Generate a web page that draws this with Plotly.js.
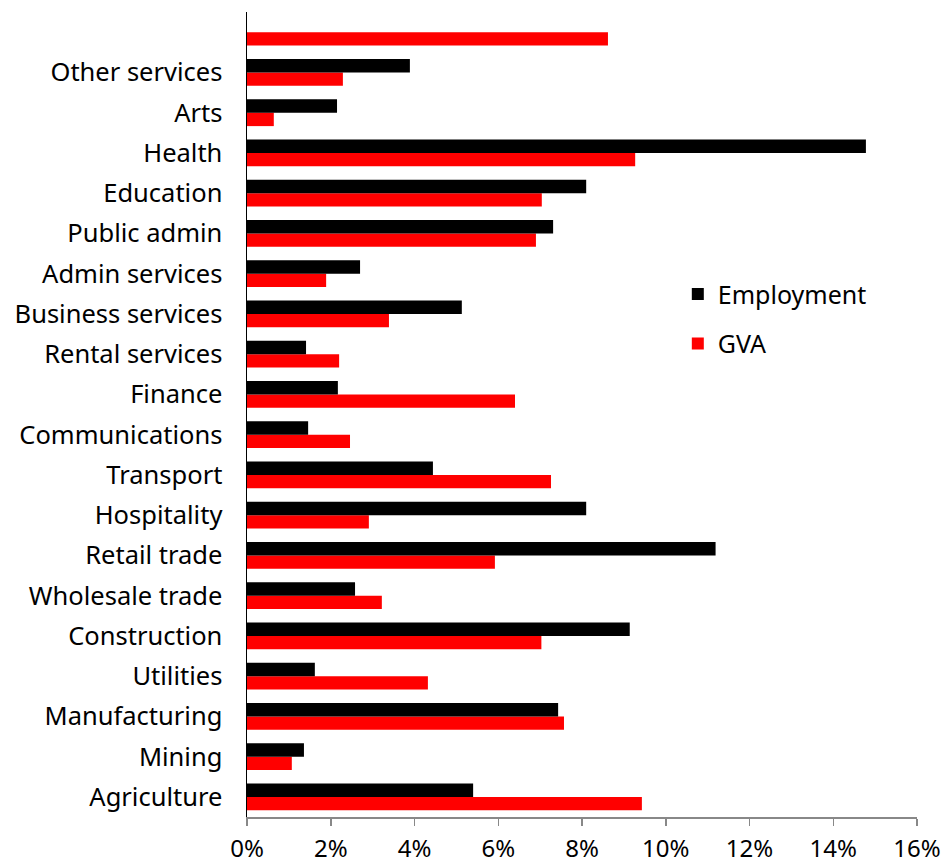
<!DOCTYPE html>
<html>
<head>
<meta charset="utf-8">
<script src="https://cdn.plot.ly/plotly-3.0.1.min.js"></script>
<style>html,body{margin:0;padding:0;background:#fff;}#chart{width:946px;height:863px;}</style>
</head>
<body>
<div id="chart"></div>
<script>
// Categories from bottom to top
var categories = ["Agriculture","Mining","Manufacturing","Utilities","Construction","Wholesale trade","Retail trade","Hospitality","Transport","Communications","Finance","Rental services","Business services","Admin services","Public admin","Education","Health","Arts","Other services","Ownership of dwellings"];
var tickLabels = ["Agriculture","Mining","Manufacturing","Utilities","Construction","Wholesale trade","Retail trade","Hospitality","Transport","Communications","Finance","Rental services","Business services","Admin services","Public admin","Education","Health","Arts","Other services",""];
// Shares, %
var employment = [5.40, 1.36, 7.43, 1.62, 9.14, 2.58, 11.19, 8.10, 4.44, 1.46, 2.17, 1.41, 5.13, 2.70, 7.31, 8.10, 14.78, 2.15, 3.89, 0];
var gva = [9.43, 1.07, 7.57, 4.32, 7.03, 3.22, 5.92, 2.91, 7.26, 2.46, 6.40, 2.20, 3.39, 1.89, 6.90, 7.04, 9.27, 0.64, 2.29, 8.62];
var xTicks = [0, 2, 4, 6, 8, 10, 12, 14, 16];
var xTickText = ["0%","2%","4%","6%","8%","10%","12%","14%","16%"];

var font = "Noto Sans, Open Sans, sans-serif";
var data = [
  {type: "bar", orientation: "h", name: "GVA", legendgroup: "g", legendrank: 2, y: categories, x: gva, marker: {color: "#ff0000"}},
  {type: "bar", orientation: "h", name: "Employment", legendgroup: "e", legendrank: 1, y: categories, x: employment, marker: {color: "#000000"}}
];
var layout = {
  width: 946, height: 863,
  margin: {l: 247, r: 29, t: 12, b: 46},
  paper_bgcolor: "#fff", plot_bgcolor: "#fff",
  barmode: "group", bargap: 0.33, bargroupgap: 0,
  font: {family: font, size: 22, color: "#000"},
  xaxis: {
    range: [0, 16], tickvals: xTicks, ticktext: xTickText,
    showgrid: false, zeroline: false, showline: true, linecolor: "#888", linewidth: 1.5,
    ticks: "outside", ticklen: 7, tickcolor: "#888", tickwidth: 1.5, ticklabelstandoff: 3,
    tickfont: {family: font, size: 24, color: "#000"}, fixedrange: true
  },
  yaxis: {
    type: "category", categoryorder: "array", categoryarray: categories,
    tickvals: categories, ticktext: tickLabels,
    showgrid: false, zeroline: false, showline: true, linecolor: "#000", linewidth: 1.5,
    ticks: "", ticklabelstandoff: 18,
    tickfont: {family: font, size: 25.5, color: "#000"}, fixedrange: true
  },
  legend: {
    x: 0.643, y: 0.678, xanchor: "left", yanchor: "top",
    traceorder: "grouped", bgcolor: "rgba(0,0,0,0)",
    font: {family: font, size: 25, color: "#000"},
    itemwidth: 30, tracegroupgap: 14
  },
  showlegend: true
};
Plotly.newPlot("chart", data, layout, {displayModeBar: false, staticPlot: true});
</script>
</body>
</html>
